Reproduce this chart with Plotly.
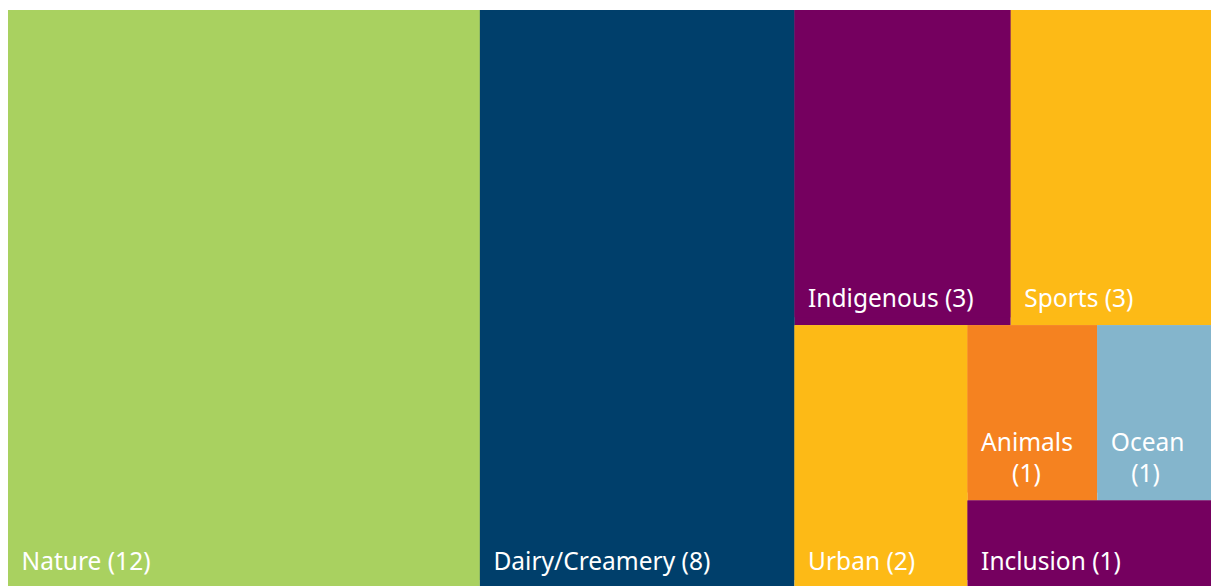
import plotly.graph_objects as go

labels = ["Nature", "Dairy/Creamery", "Indigenous", "Sports", "Urban", "Animals", "Ocean", "Inclusion"]
values = [12, 8, 3, 3, 2, 1, 1, 1]
colors = ["#A9D160", "#003F6B", "#75005F", "#FDBA16", "#FDBA16", "#F58220", "#84B5CC", "#75005F"]

INDENT = "\u2004\u200a"
texts = [INDENT + "Nature (12)", INDENT + "Dairy/Creamery (8)", INDENT + "Indigenous (3)",
         INDENT + "Sports (3)", INDENT + "Urban (2)",
         INDENT + "Animals<br>" + INDENT + "\u2002\u2002\u2009\u200a(1)",
         INDENT + "Ocean<br>" + INDENT + "\u2002\u2009\u2009(1)",
         INDENT + "Inclusion (1)"]

# each category is an outer tile holding one inner tile of the same colour,
# so the bottom padding lifts the label off the tile edge
ids = [l for l in labels] + [l + "-leaf" for l in labels]
all_labels = labels + labels
parents = [""] * len(labels) + labels
all_values = values + values
all_colors = colors + colors
all_texts = [""] * len(labels) + texts
text_colors = ["rgba(0,0,0,0)"] * len(labels) + ["white"] * len(labels)

fig = go.Figure(go.Treemap(
    ids=ids,
    labels=all_labels,
    parents=parents,
    values=all_values,
    branchvalues="total",
    text=all_texts,
    texttemplate="%{text}",
    textposition="bottom left",
    textfont=dict(family="Noto Sans", size=24.5, color=text_colors),
    marker=dict(colors=all_colors, line=dict(width=0), pad=dict(t=0, l=0, r=0, b=8)),
    tiling=dict(packing="squarify", pad=0),
    pathbar=dict(visible=False),
    sort=False,
    hoverinfo="label+value",
))
fig.update_layout(
    width=1219, height=588,
    margin=dict(l=0, r=0, t=2, b=0),
    paper_bgcolor="white",
)
fig.write_html("out.html")
